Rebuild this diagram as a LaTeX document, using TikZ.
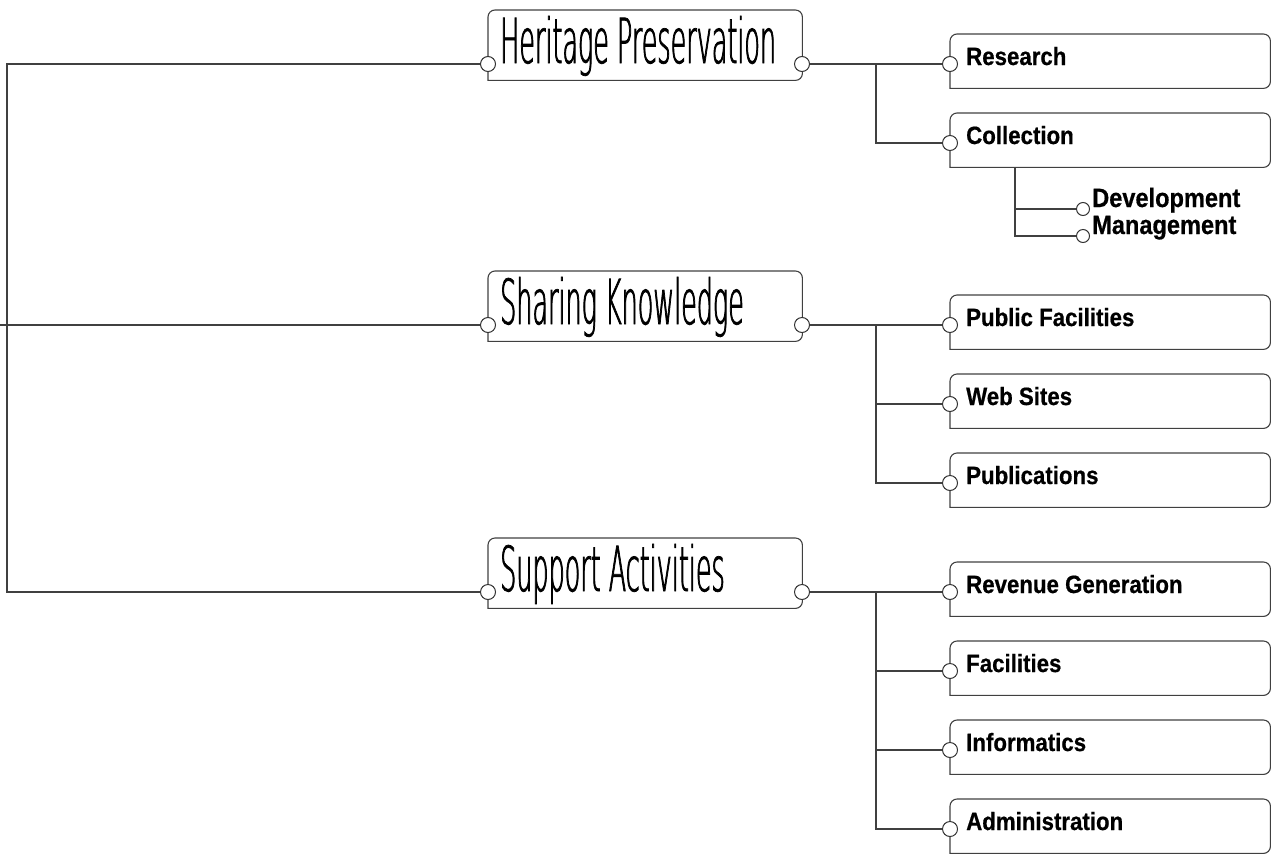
\documentclass[tikz,border=0pt]{standalone}
\usepackage{fontspec}
\setmainfont{Liberation Sans}
\newfontfamily\titlefont[FakeStretch=0.41, FakeBold=1.2]{DejaVuSans-ExtraLight.ttf}
\newfontfamily\itemfont[FakeStretch=0.89, FakeBold=0.6]{Liberation Sans}
\usetikzlibrary{positioning}

\tikzset{
	wire/.style={draw=black!75, line width=1.1},
	port/.style={circle, draw=black!80, fill=white, line width=1, minimum size=15, inner sep=0},
	subport/.style={port, minimum size=13},
	mainbox/.style={minimum width=314, minimum height=70, inner sep=0, anchor=north west},
	itembox/.style={minimum width=320, minimum height=54, inner sep=0, anchor=north west},
	title/.style={anchor=base west, inner sep=0, font=\titlefont\fontsize{62}{62}\selectfont},
	item/.style={anchor=base west, inner sep=0, font=\itemfont\bfseries\fontsize{25}{25}\selectfont},
}

% outline with a square lower left corner
\newcommand\tabline[1]{\draw[wire, rounded corners=7, line cap=rect] (#1.south west) -- (#1.north west) -- (#1.north east) -- (#1.south east) -- (#1.south west);}

\begin{document}
\begin{tikzpicture}[x=1pt, y=-1pt]
	\useasboundingbox (0,0) rectangle (1274,865);

	% three main areas
	\foreach \name/\top/\text in {hp/10/Heritage Preservation, sk/271/Sharing Knowledge, sa/538/Support Activities} {
		\node[mainbox] (\name) at (488,\top) {};
		\tabline{\name}
		\node[title] (\name-t) at (500,\top+53) {\text};
		\node[port] (\name-l) at (488,\top+54) {};
		\node[port] (\name-r) at (802,\top+54) {};
	}

	% activities
	\foreach \name/\top/\text in {re/34/Research, co/113/Collection, pf/295/Public Facilities, ws/374/Web Sites, pb/453/Publications, rg/562/Revenue Generation, fa/641/Facilities, inf/720/Informatics, ad/799/Administration} {
		\node[itembox] (\name) at (950,\top) {};
		\tabline{\name}
		\node[item] (\name-t) at (966,\top+31) {\text};
		\node[port] (\name-l) at (950,\top+30) {};
	}

	% collection split
	\node[subport] (dv-l) at (1083,209) {};
	\node[item, font=\itemfont\bfseries\fontsize{26.5}{26.5}\selectfont] (dv-t) at (1092,207) {Development};
	\node[subport] (mg-l) at (1083,236) {};
	\node[item, font=\itemfont\bfseries\fontsize{26.5}{26.5}\selectfont] (mg-t) at (1092,234) {Management};

	% left rail
	\coordinate (edge) at (0,325);
	\coordinate (rail) at (7,325);
	\draw[wire] (hp-l) -| (rail) |- (sa-l);
	\draw[wire] (edge) -- (sk-l);

	% heritage branch
	\draw[wire] (hp-r) -- (re-l);
	\coordinate (hp-bus) at (876,64);
	\draw[wire] (hp-bus) |- (co-l);
	\coordinate (co-bus) at ([xshift=65]co.south west);
	\draw[wire] (co-bus) |- (dv-l);
	\draw[wire] (co-bus) |- (mg-l);

	% knowledge branch
	\draw[wire] (sk-r) -- (pf-l);
	\coordinate (sk-bus) at (876,325);
	\draw[wire] (sk-bus) |- (ws-l);
	\draw[wire] (sk-bus) |- (pb-l);

	% support branch
	\draw[wire] (sa-r) -- (rg-l);
	\coordinate (sa-bus) at (876,592);
	\draw[wire] (sa-bus) |- (fa-l);
	\draw[wire] (sa-bus) |- (inf-l);
	\draw[wire] (sa-bus) |- (ad-l);
\end{tikzpicture}
\end{document}
